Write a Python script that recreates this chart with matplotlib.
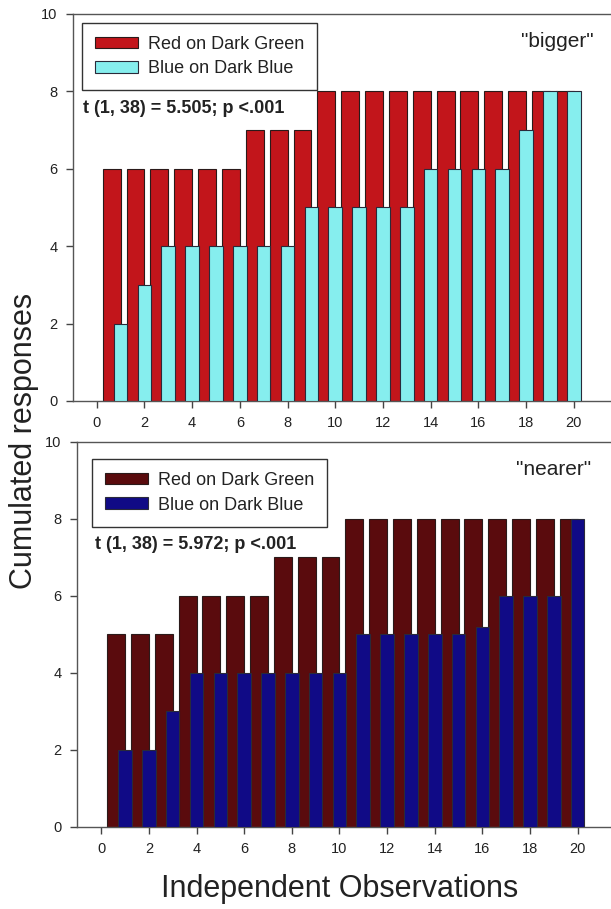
import numpy as np
import matplotlib
matplotlib.use("Agg")
import matplotlib.pyplot as plt

plt.rcParams['font.family'] = ['Liberation Sans', 'DejaVu Sans']

# observation index 1..20
obs = np.arange(1, 21)

# "bigger" panel
bigger_red = [6, 6, 6, 6, 6, 6, 7, 7, 7, 8, 8, 8, 8, 8, 8, 8, 8, 8, 8, 8]
bigger_blue = [2, 3, 4, 4, 4, 4, 4, 4, 5, 5, 5, 5, 5, 6, 6, 6, 6, 7, 8, 8]

# "nearer" panel
nearer_red = [5, 5, 5, 6, 6, 6, 6, 7, 7, 7, 8, 8, 8, 8, 8, 8, 8, 8, 8, 8]
nearer_blue = [2, 2, 3, 4, 4, 4, 4, 4, 4, 4, 5, 5, 5, 5, 5, 5.2, 6, 6, 6, 8]

labels = ["Red on Dark Green", "Blue on Dark Blue"]
xticks = list(range(0, 21, 2))
yticks = list(range(0, 11, 2))

fig = plt.figure(figsize=(6.11, 9.09), dpi=100)

panels = [
    dict(rect=[0.119, 0.5589, 0.881, 0.4257], xlim=(-1.006, 21.56),
         red=bigger_red, blue=bigger_blue, c=('#c2151b', '#86eeee'),
         tag='"bigger"', stat="t (1, 38) = 5.505; p <.001",
         leg=(0.017, 0.977), statpos=(0.019, 0.757), tagpos=(0.968, 0.928)),
    dict(rect=[0.1255, 0.0905, 0.8745, 0.4236], xlim=(-1.03, 21.4),
         red=nearer_red, blue=nearer_blue, c=('#5a0b0d', '#100a86'),
         tag='"nearer"', stat="t (1, 38) = 5.972; p <.001",
         leg=(0.0286, 0.955), statpos=(0.034, 0.732), tagpos=(0.963, 0.927)),
]

for p in panels:
    ax = fig.add_axes(p['rect'])
    ax.bar(obs - 0.75, p['red'], width=0.75, align='edge', color=p['c'][0],
           edgecolor='#2a1a1a', linewidth=0.8, label=labels[0], zorder=2)
    ax.bar(obs, p['blue'], width=0.57, color=p['c'][1],
           edgecolor='#2a2a3a', linewidth=0.8, label=labels[1], zorder=3)
    ax.set_xlim(*p['xlim'])
    ax.set_ylim(0, 10)
    ax.set_xticks(xticks)
    ax.set_yticks(yticks)
    ax.tick_params(direction='out', length=5, width=1, colors='#444444',
                   labelcolor='#222222', labelsize=10.5, pad=6)
    ax.spines['right'].set_visible(False)
    for s in ('top', 'left', 'bottom'):
        ax.spines[s].set_color('#555555')
        ax.spines[s].set_linewidth(1.0)

    leg = ax.legend(loc='upper left', bbox_to_anchor=p['leg'], borderaxespad=0,
                    fontsize=13, frameon=True, fancybox=False, framealpha=1,
                    edgecolor='#333333', handlelength=2.4, handleheight=0.6,
                    handletextpad=0.55, labelspacing=0.42, borderpad=0.72)
    leg.get_frame().set_linewidth(1.0)
    for t in leg.get_texts():
        t.set_color('#222222')

    ax.text(p['statpos'][0], p['statpos'][1], p['stat'], transform=ax.transAxes,
            ha='left', va='center', fontsize=13, fontweight='bold', color='#222222')
    ax.text(p['tagpos'][0], p['tagpos'][1], p['tag'], transform=ax.transAxes,
            ha='right', va='center', fontsize=15, color='#222222')

fig.text(0.04, 0.515, "Cumulated responses", rotation=90, ha='center', va='center',
         fontsize=22, color='#222222')
fig.text(0.556, 0.022, "Independent Observations", ha='center', va='center',
         fontsize=22, color='#222222')

fig.savefig("out.png", dpi=100)
